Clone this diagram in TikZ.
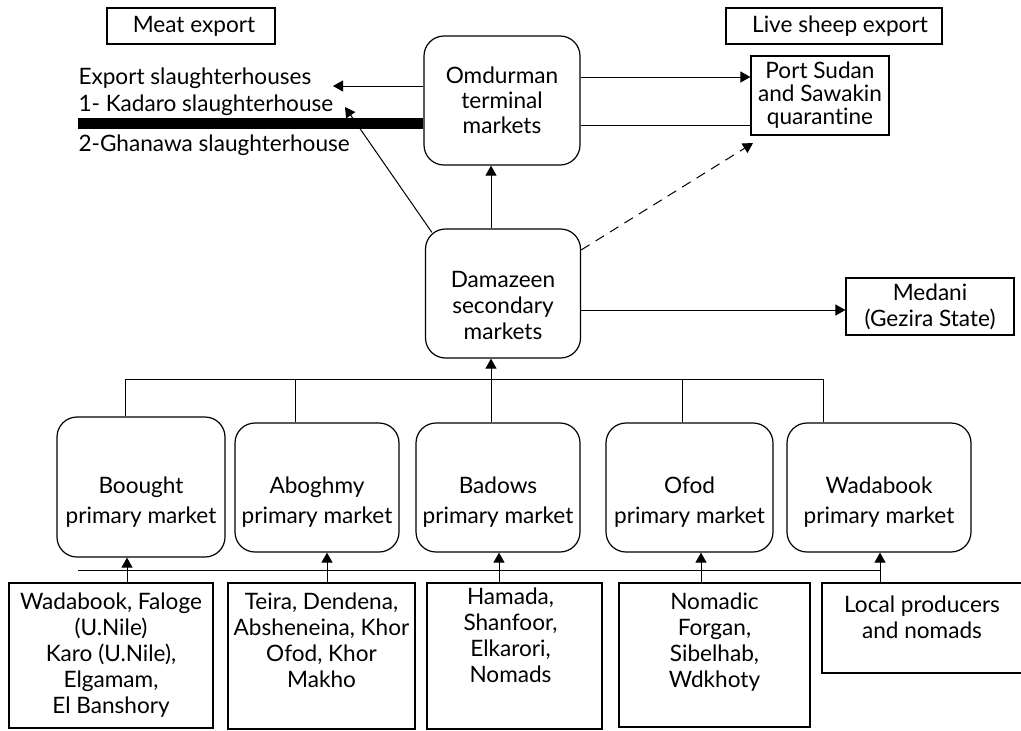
\documentclass[tikz,border=0pt]{standalone}
\usepackage{fontspec}
\setmainfont{Lato}[Ligatures=NoCommon]
\usetikzlibrary{arrows.meta}

\tikzset{
  box/.style={draw, line width=0.6pt, inner sep=0pt, align=center, font=\fontsize{11.3}{13}\selectfont},
  rbox/.style={box, rounded corners=10pt},
  txt/.style={align=center, inner sep=0pt, font=\fontsize{11.3}{13}\selectfont},
  arr/.style={-{Triangle[length=5pt,width=5.5pt]}},
}

\begin{document}
\begin{tikzpicture}[x=0.5pt,y=-0.5pt,line width=0.5pt]
\useasboundingbox (0,0) rectangle (1021,730);

% top boxes
\node[box,minimum width=84pt,minimum height=18pt] (meat) at (191,26) {\hspace{3pt}Meat export};
\node[box,minimum width=108pt,minimum height=18pt] (live) at (834,26) {\hspace{6pt}Live sheep export};

\node[rbox,minimum width=78pt,minimum height=64.5pt] (omd) at (502,100.5) {Omdurman\\[-0.5pt]terminal\\[-0.5pt]markets};
\node[box,minimum width=69pt,minimum height=39.5pt] (port) at (820,95.5) {Port Sudan\\[-1.5pt]and Sawakin\\[-1.5pt]quarantine};

\node[rbox,minimum width=77.5pt,minimum height=64.5pt] (dam) at (503,293.5) {};
\node[txt] (damt) at ([yshift=-6pt]dam.center) {Damazeen\\secondary\\markets};
\node[box,minimum width=84pt,minimum height=28.5pt] (med) at (930,306.5) {Medani\\(Gezira State)};

% slaughterhouses
\node[txt,anchor=west] (sl0) at (78,78) {Export slaughterhouses};
\node[txt,anchor=west] (sl1) at (78,105) {1- Kadaro slaughterhouse};
\node[txt,anchor=west] (sl2) at (78,145) {2-Ghanawa slaughterhouse};
\coordinate (bar) at (78,123.5);
\draw[line width=5.5pt] (bar) -- (bar -| omd.west);

% primary markets
\node[rbox,minimum width=84pt,minimum height=70pt] (p1) at (141,487) {};
\node[rbox,minimum width=82pt,minimum height=64.5pt] (p2) at (317,487.5) {};
\node[rbox,minimum width=82pt,minimum height=64.5pt] (p3) at (498,487.5) {};
\node[rbox,minimum width=83.5pt,minimum height=64.5pt] (p4) at (689.5,487.5) {};
\node[rbox,minimum width=92pt,minimum height=64.5pt] (p5) at (879,487.5) {};
\node[txt] (pt1) at ([yshift=-7.5pt]p1.center) {Boought\\[2pt]primary market};
\node[txt] (pt2) at ([yshift=-7.5pt]p2.center) {Aboghmy\\[2pt]primary market};
\node[txt] (pt3) at ([yshift=-7.5pt]p3.center) {Badows\\[2pt]primary market};
\node[txt] (pt4) at ([yshift=-7.5pt]p4.center) {Ofod\\[2pt]primary market};
\node[txt] (pt5) at ([yshift=-7.5pt]p5.center) {Wadabook\\[2pt]primary market};

% sources
\node[box,minimum width=102pt,minimum height=72.5pt] (b1) at (111,655.5) {};
\node[box,minimum width=93.5pt,minimum height=73pt] (b2) at (321.5,656) {};
\node[box,minimum width=87.5pt,minimum height=73pt] (b3) at (514.5,656) {};
\node[box,minimum width=95.5pt,minimum height=72pt] (b4) at (714.5,655) {};
\node[box,minimum width=102pt,minimum height=45pt] (b5) at (924,628) {};
\node[txt,anchor=north] (t1) at ([yshift=-5pt]b1.north) {Wadabook, Faloge\\(U.Nile)\\Karo (U.Nile),\\Elgamam,\\El Banshory};
\node[txt,anchor=north] (t2) at ([yshift=-5pt]b2.north) {Teira, Dendena,\\Absheneina, Khor\\Ofod, Khor\\Makho};
\node[txt,anchor=north] (t3) at ([shift={(-2pt,-2.5pt)}]b3.north) {Hamada,\\Shanfoor,\\Elkarori,\\Nomads};
\node[txt,anchor=north] (t4) at ([yshift=-5pt]b4.north) {Nomadic\\Forgan,\\Sibelhab,\\Wdkhoty};
\node[txt,anchor=north] (t5) at ([shift={(-1pt,-6.5pt)}]b5.north) {Local producers\\and nomads};

% connectors
\coordinate (toslh) at (333,86);
\coordinate (kad) at (345,107);
\coordinate (toport) at (0,77);
\coordinate (toport2) at (0,125);
\coordinate (dashA) at (0,250);
\coordinate (psw) at (753,143);
\coordinate (tomed) at (0,310);
\coordinate (busB) at (78,570);

\draw[arr] (omd.west |- toslh) -- (toslh);
\draw[arr] ([shift={(3.5pt,-2pt)}]dam.north west) -- (kad);
\draw[arr] (omd.east |- toport) -- (port.west |- toport);
\draw (omd.east |- toport2) -- (port.west |- toport2);
\draw[arr,dashed,dash pattern=on 5pt off 3.5pt] (dam.east |- dashA) -- (psw);
\draw[arr] (dam.east |- tomed) -- (med.west |- tomed);

\foreach \n/\xa/\xb in {1/125/127, 2/295/327, 3/491/499, 4/682/701, 5/823/880}{
  \coordinate (u\n) at (\xa,379);
  \coordinate (d\n) at (\xb,570);
  \draw (u\n) -- (p\n.north -| u\n);
  \draw[arr] (b\n.north -| d\n) -- (p\n.south -| d\n);
}
\draw (u1) -- (u5);
\draw (busB) -- (d5);
\draw[arr] (u3) -- (dam.south -| u3);
\draw[arr] (dam.north -| u3) -- (omd.south -| u3);
\end{tikzpicture}
\end{document}
